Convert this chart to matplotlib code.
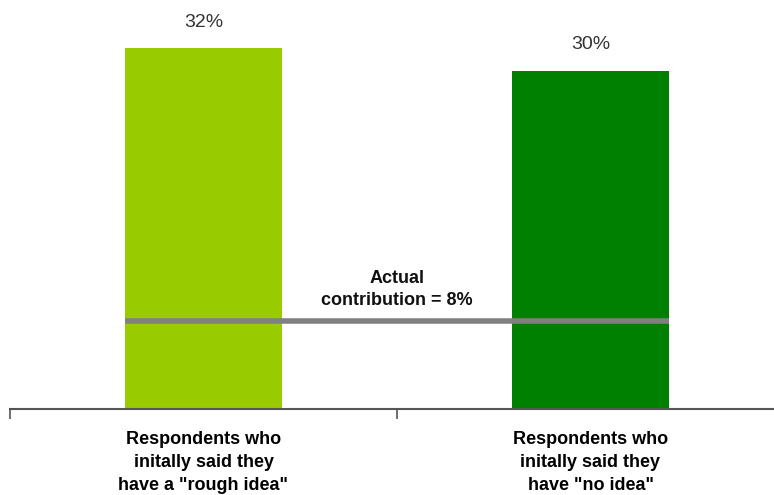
import numpy as np
import matplotlib.pyplot as plt

plt.rcParams['font.family'] = ['Liberation Sans', 'DejaVu Sans']

categories = ['Respondents who\ninitally said they\nhave a "rough idea"',
              'Respondents who\ninitally said they\nhave "no idea"']
values = [32, 30]
value_labels = ['32%', '30%']
colors = ['#99CC00', '#008000']
actual = 7.8
actual_label = 'Actual\ncontribution = 8%'

fig = plt.figure(figsize=(7.74, 4.95), dpi=100)
ax = fig.add_axes([10 / 774, 86 / 495, 774 / 774, 409 / 495])

x = np.arange(len(values))
w = 0.405
ax.bar(x, values, width=w, color=colors, zorder=2)
for xi, v, lab in zip(x, values, value_labels):
    ax.annotate(lab, (xi, v), xytext=(0, 19), textcoords='offset points',
                ha='center', va='center', fontsize=14, color='#333333')

ax.plot([x[0] - w / 2, x[-1] + w / 2], [actual, actual], color='#808080', lw=4,
        solid_capstyle='butt', zorder=3)
ax.text(0.5, actual + 1.1, actual_label, ha='center', va='bottom',
        fontsize=13, fontweight='bold', color='#111111', linespacing=1.4)

ax.set_xlim(-0.5, 1.5)
ax.set_ylim(0, 36.3)
for s in ['left', 'right', 'top']:
    ax.spines[s].set_visible(False)
ax.spines['bottom'].set_color('#555555')
ax.spines['bottom'].set_linewidth(1.5)
ax.set_yticks([])
ax.set_xticks(x)
ax.set_xticklabels(categories, fontsize=13, fontweight='bold', linespacing=1.45)
ax.tick_params(axis='x', which='major', length=0, pad=16)
ax.set_xticks([-0.5, 0.5, 1.5], minor=True)
ax.tick_params(axis='x', which='minor', length=7, width=1.2, color='#555555')

fig.savefig('out.png', dpi=100)
